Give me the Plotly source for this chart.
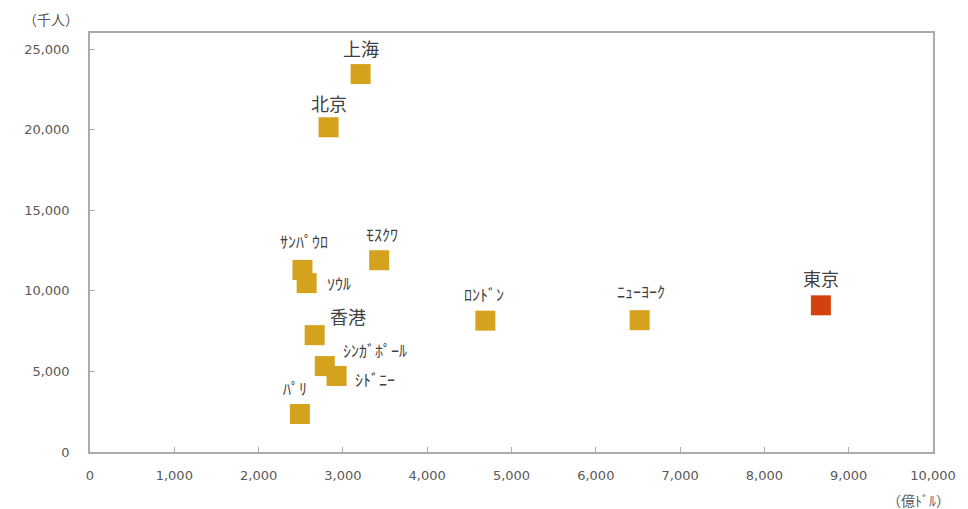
import plotly.graph_objects as go

# City economic output (100 million USD) vs. population (thousands)
cities = ["上海", "北京", "ｻﾝﾊﾟｳﾛ", "ｿｳﾙ", "ﾓｽｸﾜ", "香港", "ｼﾝｶﾞﾎﾟｰﾙ", "ｼﾄﾞﾆｰ", "ﾊﾟﾘ",
          "ﾛﾝﾄﾞﾝ", "ﾆｭｰﾖｰｸ", "東京"]
gdp = [3210, 2830, 2520, 2570, 3430, 2665, 2785, 2925, 2490, 4690, 6520, 8670]
population = [23450, 20150, 11300, 10480, 11900, 7250, 5330, 4720, 2360, 8150, 8180, 9100]

x_ticks = list(range(0, 10001, 1000))
y_ticks = list(range(0, 25001, 5000))

GOLD = "#D4A21C"
RED = "#D2420E"
colors = [RED if c == "東京" else GOLD for c in cities]

FONT = "Noto Sans CJK JP, sans-serif"
TICK_FONT = "DejaVu Sans, sans-serif"

# label placement: (xshift, yshift, xanchor, font size)
big = 18
small = 16
label_style = {
    "上海": (0, 26, "center", big),
    "北京": (0, 24, "center", big),
    "ｻﾝﾊﾟｳﾛ": (2, 29, "center", small),
    "ｿｳﾙ": (18, 0, "left", small),
    "ﾓｽｸﾜ": (3, 26, "center", small),
    "香港": (33, 19, "center", big),
    "ｼﾝｶﾞﾎﾟｰﾙ": (16, 16, "left", small),
    "ｼﾄﾞﾆｰ": (16, -3, "left", small),
    "ﾊﾟﾘ": (-5, 26, "center", small),
    "ﾛﾝﾄﾞﾝ": (-1, 27, "center", small),
    "ﾆｭｰﾖｰｸ": (1, 29, "center", small),
    "東京": (0, 27, "center", big),
}

fig = go.Figure()
fig.add_trace(go.Scatter(
    x=gdp, y=population, mode="markers",
    marker=dict(symbol="square", size=20, color=colors, line=dict(width=0)),
    hovertext=cities, showlegend=False, cliponaxis=False,
))

for name, gx, py in zip(cities, gdp, population):
    dx, dy, anchor, fs = label_style[name]
    fig.add_annotation(
        x=gx, y=py, text=name, showarrow=False,
        xshift=dx, yshift=dy, xanchor=anchor, yanchor="middle",
        font=dict(size=fs, color="#404040", family=FONT),
    )

axis_common = dict(
    showline=True, linecolor="#ABABAB", linewidth=1.5, mirror=True,
    showgrid=False, zeroline=False,
    ticks="inside", ticklen=5, tickcolor="#ABABAB",
    tickfont=dict(size=13, color="#595959", family=TICK_FONT),
    tickformat=",",
)

fig.update_xaxes(range=[0, 10000], tickvals=x_ticks, ticklabelstandoff=11, **axis_common)
fig.update_yaxes(range=[0, 26000], tickvals=y_ticks, ticklabelstandoff=16, **axis_common)

fig.add_annotation(xref="paper", yref="paper", x=0, y=1.0, xshift=-39, yshift=14,
                   text="（千人）", showarrow=False, xanchor="center", yanchor="middle",
                   font=dict(size=14, color="#595959", family=FONT))
fig.add_annotation(xref="paper", yref="paper", x=1.0, y=0.0, yshift=-48, xshift=-48,
                   text="（億ﾄﾞﾙ）", showarrow=False, xanchor="left", yanchor="middle",
                   font=dict(size=14, color="#595959", family=FONT))

fig.update_layout(
    width=968, height=509,
    margin=dict(l=90, r=28, t=33, b=57),
    plot_bgcolor="white", paper_bgcolor="white",
)

fig.write_html("out.html")
